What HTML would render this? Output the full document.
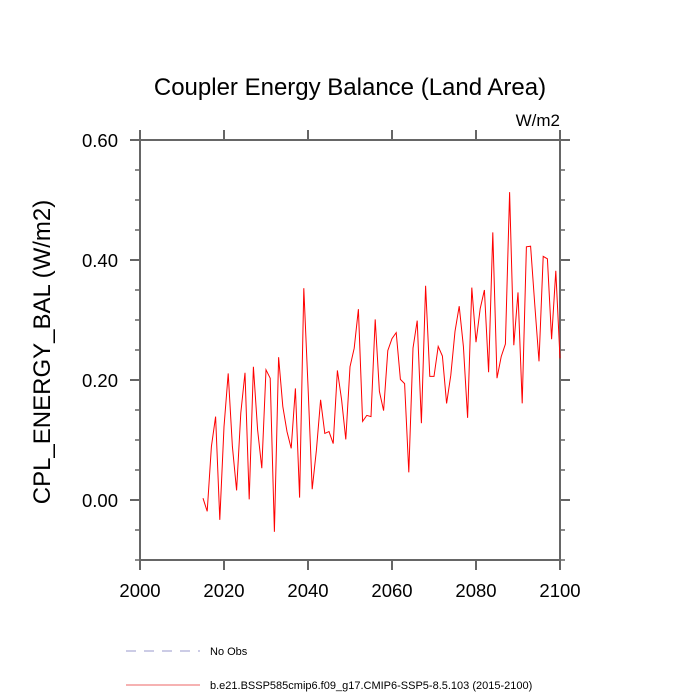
<!DOCTYPE html>
<html><head><meta charset="utf-8"><style>
body{margin:0;background:#fff;}
svg{display:block;font-family:"Liberation Sans",sans-serif;}
</style></head><body>
<svg id="chart" width="700" height="700" viewBox="0 0 700 700">
<text x="350" y="95" text-anchor="middle" font-size="24">Coupler Energy Balance (Land Area)</text>
<text x="560" y="126" text-anchor="end" font-size="17">W/m2</text>
<text transform="translate(50,352) rotate(-90)" text-anchor="middle" font-size="24">CPL_ENERGY_BAL  (W/m2)</text>
<g id="axes"></g>
<g id="series"></g>
<line x1="126" y1="651" x2="200" y2="651" stroke="#9999cc" stroke-width="1" stroke-dasharray="10,8"/>
<text x="210" y="655" font-size="11">No Obs</text>
<line x1="126" y1="685" x2="200" y2="685" stroke="#ee6666" stroke-width="1"/>
<text x="210" y="689" font-size="11">b.e21.BSSP585cmip6.f09_g17.CMIP6-SSP5-8.5.103 (2015-2100)</text>
</svg>
<script>
const startYear = 2015;
const values = [0.003,-0.019,0.089,0.139,-0.033,0.122,0.211,0.089,0.016,0.145,0.212,0.001,0.222,0.117,0.053,0.217,0.203,-0.053,0.238,0.156,0.114,0.086,0.186,0.004,0.353,0.19,0.018,0.083,0.167,0.111,0.114,0.094,0.216,0.167,0.101,0.222,0.253,0.318,0.131,0.141,0.139,0.301,0.181,0.149,0.249,0.269,0.279,0.201,0.194,0.046,0.253,0.299,0.128,0.357,0.206,0.206,0.256,0.24,0.161,0.208,0.281,0.323,0.256,0.137,0.354,0.263,0.319,0.35,0.213,0.446,0.203,0.239,0.26,0.513,0.258,0.346,0.161,0.422,0.423,0.325,0.231,0.406,0.402,0.268,0.382,0.236];
const xTicks = [2000,2020,2040,2060,2080,2100];
const yTicks = [0.0,0.2,0.4,0.6];
const yMinor = [-0.1,-0.05,0.05,0.1,0.15,0.25,0.3,0.35,0.45,0.5,0.55];
const X0=140,X1=560,Y0=140,Y1=560;
const xs = v => X0 + (v-2000)/100*(X1-X0);
const ys = v => Y1 - (v+0.1)/0.7*(Y1-Y0);
const NS='http://www.w3.org/2000/svg';
const axes=document.getElementById('axes');
function mk(tag,attrs,parent){const e=document.createElementNS(NS,tag);for(const k in attrs)e.setAttribute(k,attrs[k]);parent.appendChild(e);return e;}
const frame=mk('rect',{x:X0,y:Y0,width:X1-X0,height:Y1-Y0,fill:'none',stroke:'#666','stroke-width':2},axes);


xTicks.forEach(t=>{
  const x=xs(t);
  mk('line',{x1:x,y1:Y1,x2:x,y2:Y1+10,stroke:'#666','stroke-width':2},axes);
  mk('line',{x1:x,y1:Y0,x2:x,y2:Y0-10,stroke:'#666','stroke-width':2},axes);
  const l=mk('text',{x:x,y:Y1+37,'text-anchor':'middle','font-size':18.5},axes);
  l.textContent=t;
  
  
});
yTicks.forEach(t=>{
  const y=ys(t);
  mk('line',{x1:X0-10,y1:y,x2:X0,y2:y,stroke:'#666','stroke-width':2},axes);
  mk('line',{x1:X1,y1:y,x2:X1+10,y2:y,stroke:'#666','stroke-width':2},axes);
  const l=mk('text',{x:X0-22,y:y+7,'text-anchor':'end','font-size':18.5},axes);
  l.textContent=t.toFixed(2);
  
  
});
yMinor.forEach(t=>{
  const y=ys(t);
  mk('line',{x1:X0-5,y1:y,x2:X0,y2:y,stroke:'#666','stroke-width':1.5},axes);
  mk('line',{x1:X1,y1:y,x2:X1+5,y2:y,stroke:'#666','stroke-width':1.5},axes);
});
const pts=values.map((v,i)=>xs(startYear+i).toFixed(2)+','+ys(v).toFixed(2)).join(' ');
const line=mk('polyline',{points:pts,fill:'none',stroke:'#ff0000','stroke-width':1},document.getElementById('series'));


</script>
</body></html>
